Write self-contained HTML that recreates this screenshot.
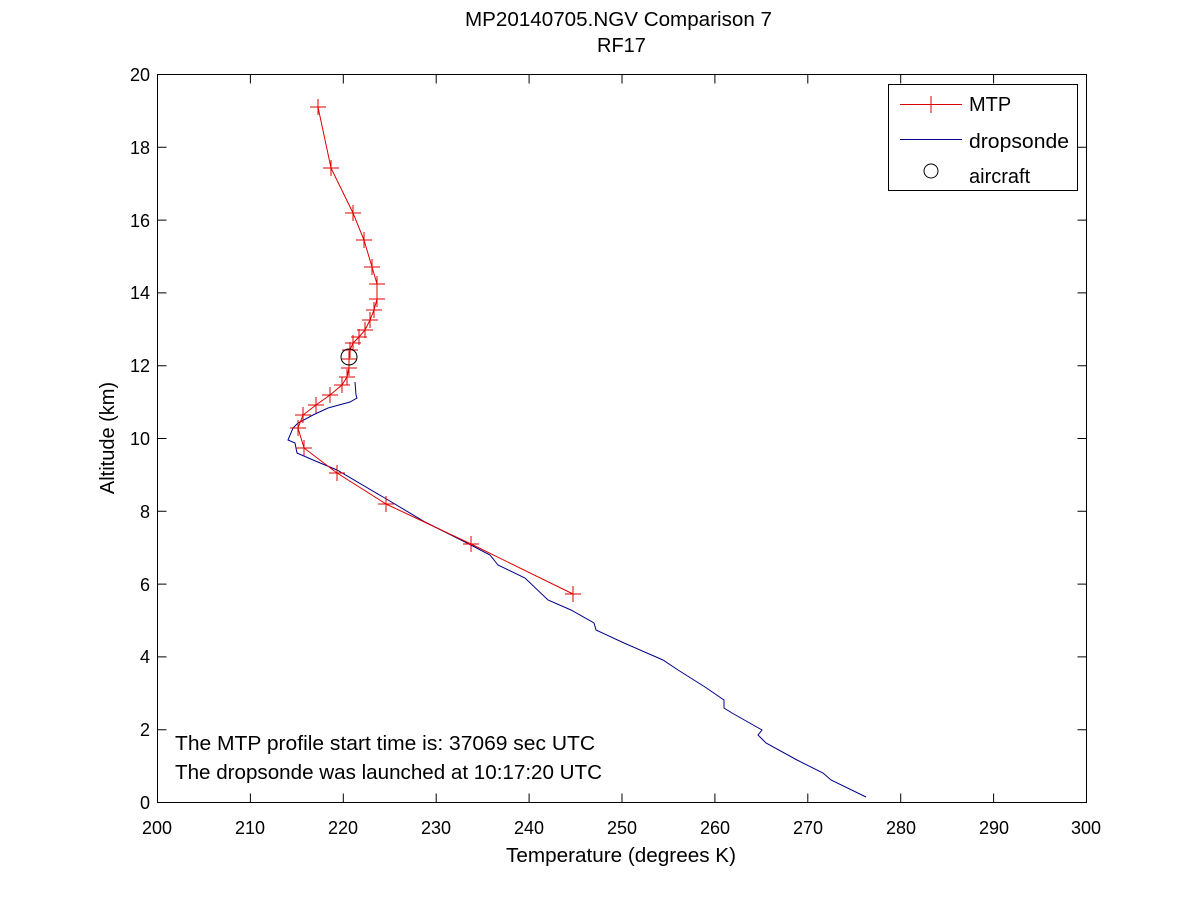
<!DOCTYPE html>
<html><head><meta charset="utf-8"><style>body{margin:0;background:#fff}svg{display:block}text{font-family:"Liberation Sans",sans-serif;fill:#000}</style></head><body>
<svg width="1200" height="900" viewBox="0 0 1200 900">
<rect width="1200" height="900" fill="#fff"/>
<g stroke="#000" stroke-width="1" fill="none">
<rect x="157.5" y="74.5" width="929" height="728"/>
<path d="M157.5 802.5v-9M250.4 802.5v-9M343.3 802.5v-9M436.2 802.5v-9M529.1 802.5v-9M622 802.5v-9M714.9 802.5v-9M807.8 802.5v-9M900.7 802.5v-9M993.6 802.5v-9M1086.5 802.5v-9
M157.5 74.5v9M250.4 74.5v9M343.3 74.5v9M436.2 74.5v9M529.1 74.5v9M622 74.5v9M714.9 74.5v9M807.8 74.5v9M900.7 74.5v9M993.6 74.5v9M1086.5 74.5v9
M157.5 729.7h9M157.5 656.9h9M157.5 584.1h9M157.5 511.3h9M157.5 438.5h9M157.5 365.7h9M157.5 292.9h9M157.5 220.1h9M157.5 147.3h9
M1086.5 729.7h-9M1086.5 656.9h-9M1086.5 584.1h-9M1086.5 511.3h-9M1086.5 438.5h-9M1086.5 365.7h-9M1086.5 292.9h-9M1086.5 220.1h-9M1086.5 147.3h-9"/>
</g>
<g font-size="18" text-anchor="middle">
<text x="157" y="834">200</text><text x="250" y="834">210</text><text x="343" y="834">220</text><text x="436" y="834">230</text><text x="529" y="834">240</text><text x="622" y="834">250</text><text x="715" y="834">260</text><text x="808" y="834">270</text><text x="901" y="834">280</text><text x="994" y="834">290</text><text x="1086" y="834">300</text>
</g>
<g font-size="18" text-anchor="end">
<text x="150" y="809">0</text><text x="150" y="736">2</text><text x="150" y="663">4</text><text x="150" y="591">6</text><text x="150" y="518">8</text><text x="150" y="445">10</text><text x="150" y="372">12</text><text x="150" y="299">14</text><text x="150" y="227">16</text><text x="150" y="154">18</text><text x="150" y="81">20</text>
</g>
<text x="506" y="862" font-size="20" textLength="230" lengthAdjust="spacingAndGlyphs">Temperature (degrees K)</text>
<text x="114" y="438" font-size="20" text-anchor="middle" transform="rotate(-90 114 438)">Altitude (km)</text>
<text x="465" y="26" font-size="20" textLength="307" lengthAdjust="spacingAndGlyphs">MP20140705.NGV Comparison 7</text>
<text x="597" y="52" font-size="20">RF17</text>
<text x="175" y="750" font-size="20" textLength="420" lengthAdjust="spacingAndGlyphs">The MTP profile start time is: 37069 sec UTC</text>
<text x="175" y="779" font-size="20" textLength="427" lengthAdjust="spacingAndGlyphs">The dropsonde was launched at 10:17:20 UTC</text>
<polyline fill="none" stroke="#00008b" stroke-width="1" points="355,382 356,395 357,398 350,402 328,408 313,415 298,423 293,428 288,440 295,443 297,453 313,460 337,470 383,497 425,522 467,543 490,555 498,565 525,578 548,600 571,610 594,623 596,630 624,643 663,660 678,670 705,687 724,700 724,708 732,713 762,730 758,735 766,743 797,760 823,773 831,780 866,797"/>
<polyline fill="none" stroke="#d00" stroke-width="1" points="318,107 331,168 353,213 364,240 372,267 377,284 377,299 374,310 370,320 365,330 359,337 353,343 350,350 349,359 349,368 347,377 342,385 330,395 316,405 303,415 298,428 304,448 337,473 386,504 471,544 573,594"/>
<g stroke="#d00" stroke-width="1">
<path d="M310,107h16M318,99v16 M323,168h16M331,160v16 M345,213h16M353,205v16 M356,240h16M364,232v16 M364,267h16M372,259v16 M369,284h16M377,276v16 M369,299h16M377,291v16 M366,310h16M374,302v16 M362,320h16M370,312v16 M357,330h16M365,322v16 M351,337h16M359,329v16 M345,343h16M353,335v16 M342,350h16M350,342v16 M341,359h16M349,351v16 M341,368h16M349,360v16 M339,377h16M347,369v16 M334,385h16M342,377v16 M322,395h16M330,387v16 M308,405h16M316,397v16 M295,415h16M303,407v16 M290,428h16M298,420v16 M296,448h16M304,440v16 M329,473h16M337,465v16 M378,504h16M386,496v16 M463,544h16M471,536v16 M565,594h16M573,586v16"/>
</g>
<circle cx="349" cy="357" r="8" fill="none" stroke="#000"/>
<rect x="888.5" y="84.5" width="189" height="106" fill="#fff" stroke="#000"/>
<path d="M900 104.5h62M931 96v17" stroke="#d00"/>
<path d="M900 139.5h62" stroke="#00008b"/>
<circle cx="931" cy="171" r="7" fill="none" stroke="#000"/>
<text x="969" y="111" font-size="20">MTP</text>
<text x="969" y="148" font-size="20" textLength="100" lengthAdjust="spacingAndGlyphs">dropsonde</text>
<text x="969" y="183" font-size="20">aircraft</text>
</svg>
</body></html>
